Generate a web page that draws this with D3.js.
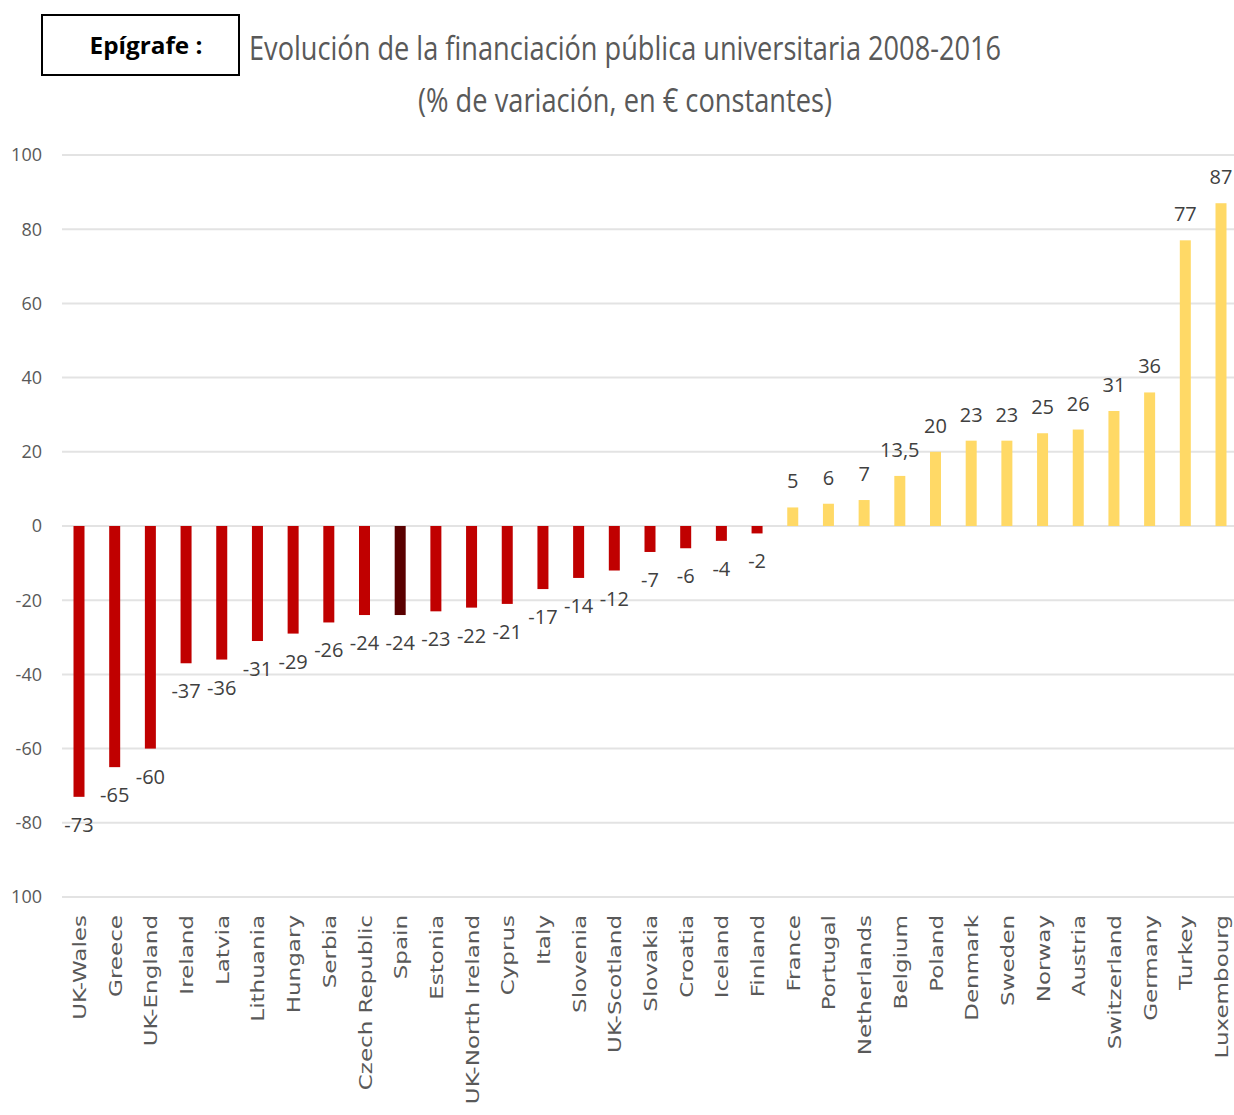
<!DOCTYPE html>
<html>
<head>
<meta charset="utf-8">
<script src="https://cdn.jsdelivr.net/npm/d3@7"></script>
<style>
  html, body { margin: 0; padding: 0; background: #fff; }
  svg { display: block; }
</style>
</head>
<body>
<svg id="chart" width="1234" height="1115"></svg>
<script>
// Countries, ordered from the largest cut to the largest increase
const countries = [
  "UK-Wales", "Greece", "UK-England", "Ireland", "Latvia", "Lithuania", "Hungary",
  "Serbia", "Czech Republic", "Spain", "Estonia", "UK-North Ireland", "Cyprus", "Italy",
  "Slovenia", "UK-Scotland", "Slovakia", "Croatia", "Iceland", "Finland", "France",
  "Portugal", "Netherlands", "Belgium", "Poland", "Denmark", "Sweden", "Norway",
  "Austria", "Switzerland", "Germany", "Turkey", "Luxembourg"
];
// % change in public university funding 2008-2016 (constant €)
const changes = [
  -73, -65, -60, -37, -36, -31, -29,
  -26, -24, -24, -23, -22, -21, -17,
  -14, -12, -7, -6, -4, -2, 5,
  6, 7, 13.5, 20, 23, 23, 25,
  26, 31, 36, 77, 87
];
const highlighted = "Spain";

// Y-axis ticks and their printed labels
const yTickValues = [100, 80, 60, 40, 20, 0, -20, -40, -60, -80, -100];
const yTickLabels = ["100", "80", "60", "40", "20", "0", "-20", "-40", "-60", "-80", "100"];

const titleLines = [
  "Evolución de la financiación pública universitaria 2008-2016",
  "(% de variación, en € constantes)"
];
const boxLabel = "Epígrafe :";

const svg = d3.select("#chart");
const narrow = "'Liberation Sans Narrow', 'Open Sans', Lato, sans-serif";

// Scales
const x = d3.scalePoint().domain(countries).range([79, 1221]);
const y = d3.scaleLinear().domain([-100, 100]).range([897, 155]);
const barW = 11;

// Gridlines
svg.append("g")
  .selectAll("line")
  .data(yTickValues)
  .join("line")
  .attr("x1", 62).attr("x2", 1234)
  .attr("y1", d => y(d)).attr("y2", d => y(d))
  .attr("stroke", "#e3e3e3")
  .attr("stroke-width", 2);

// Y-axis labels
svg.append("g")
  .selectAll("text")
  .data(yTickValues)
  .join("text")
  .attr("x", 42)
  .attr("y", d => y(d))
  .attr("dy", "0.35em")
  .attr("text-anchor", "end")
  .attr("font-family", narrow)
  .attr("font-size", 18)
  .attr("fill", "#595959")
  .text((d, i) => yTickLabels[i]);

// Bars
const data = countries.map((c, i) => ({ country: c, value: changes[i] }));
const colorOf = d => d.country === highlighted ? "#5a0000" : (d.value < 0 ? "#c00000" : "#ffd966");

svg.append("g")
  .selectAll("rect")
  .data(data)
  .join("rect")
  .attr("x", d => x(d.country) - barW / 2)
  .attr("width", barW)
  .attr("y", d => Math.min(y(d.value), y(0)))
  .attr("height", d => Math.abs(y(d.value) - y(0)))
  .attr("fill", colorOf);

// Value labels
svg.append("g")
  .selectAll("text")
  .data(data)
  .join("text")
  .attr("x", d => x(d.country))
  .attr("y", d => d.value < 0 ? y(d.value) + 28 : y(d.value) - 26)
  .attr("dy", "0.35em")
  .attr("text-anchor", "middle")
  .attr("font-family", narrow)
  .attr("font-size", 20)
  .attr("fill", "#404040")
  .text(d => String(d.value).replace(".", ","));

// Category labels, rotated and stretched along their length
svg.append("g")
  .selectAll("text")
  .data(countries)
  .join("text")
  .attr("transform", d => `translate(${x(d) + 7},915) rotate(-90) scale(1.28,1)`)
  .attr("text-anchor", "end")
  .attr("font-family", "'DejaVu Sans', sans-serif")
  .attr("font-size", 18)
  .attr("fill", "#595959")
  .text(d => d);

// Title
svg.append("text")
  .attr("x", 625).attr("y", 60)
  .attr("text-anchor", "middle")
  .attr("font-family", narrow)
  .attr("font-size", 32)
  .attr("fill", "#595959")
  .attr("textLength", 752)
  .attr("lengthAdjust", "spacingAndGlyphs")
  .text(titleLines[0]);

svg.append("text")
  .attr("x", 625).attr("y", 112)
  .attr("text-anchor", "middle")
  .attr("font-family", narrow)
  .attr("font-size", 32)
  .attr("fill", "#595959")
  .attr("textLength", 414)
  .attr("lengthAdjust", "spacingAndGlyphs")
  .text(titleLines[1]);

// Caption box
svg.append("rect")
  .attr("x", 42).attr("y", 15)
  .attr("width", 197).attr("height", 60)
  .attr("fill", "#fff")
  .attr("stroke", "#000")
  .attr("stroke-width", 2);

svg.append("text")
  .attr("x", 146).attr("y", 54)
  .attr("text-anchor", "middle")
  .attr("font-family", "'Open Sans', 'Liberation Sans', sans-serif")
  .attr("font-weight", "bold")
  .attr("font-size", 23)
  .attr("fill", "#000")
  .attr("textLength", 113)
  .attr("lengthAdjust", "spacingAndGlyphs")
  .text(boxLabel);
</script>
</body>
</html>
